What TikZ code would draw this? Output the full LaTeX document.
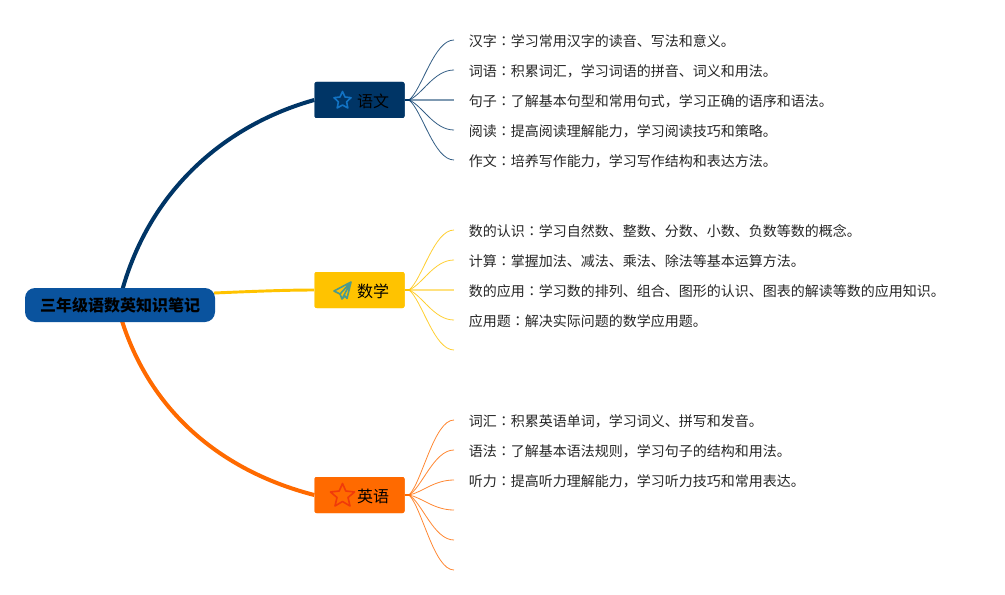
\documentclass[tikz,border=0pt]{standalone}
\usepackage{fontspec}
\setmainfont{Noto Sans CJK SC}
\newfontfamily\tcfont{Noto Sans CJK TC}
\newcommand{\cln}{{\tcfont ：}}
\tikzset{
  x=0.75pt,y=-0.75pt,
  rootbox/.style={fill=rootblue,rounded corners=7.5pt,minimum width=142.5pt,minimum height=25.5pt,inner sep=0pt,font=\fontsize{12pt}{14pt}\selectfont\bfseries,text=black},
  topicbox/.style={rounded corners=1.5pt,minimum width=67.5pt,minimum height=27pt,inner sep=0pt},
  topiclabel/.style={inner sep=0pt,font=\fontsize{12pt}{14pt}\selectfont,text=black},
  leaf/.style={anchor=west,inner sep=0pt,font=\fontsize{10.5pt}{12pt}\selectfont,text=black!85},
  mainline/.style={line width=3pt},
  thinmain/.style={line width=2.2pt},
  twig/.style={line width=0.6pt,opacity=0.8},
  midtwig/.style={line width=1.5pt,opacity=0.5},
  stub/.style={line width=2pt},
}
\definecolor{rootblue}{HTML}{0A539E}
\definecolor{navy}{HTML}{003566}
\definecolor{gold}{HTML}{FFC300}
\definecolor{orangeb}{HTML}{FF6A00}
\definecolor{staricon}{HTML}{1273C4}
\definecolor{planeicon}{HTML}{4C9A8E}
\definecolor{redicon}{HTML}{F03A0A}
\begin{document}
\begin{tikzpicture}
\useasboundingbox (0,0) rectangle (1005,595);
\coordinate (rootT) at (122,291);
\coordinate (rootB) at (122,321);
\coordinate (rootE) at (214,293);
\node[topicbox,fill=navy] (yw) at (359.5,100) {};
\node[topicbox,fill=gold] (sx) at (359.5,290) {};
\node[topicbox,fill=orangeb] (yy) at (359.5,495) {};
\draw[mainline,navy] (rootT) .. controls (150,190) and (225,125) .. (yw.west);
\draw[thinmain,gold] (rootE) .. controls (250,291.5) and (285,290) .. (sx.west);
\draw[mainline,orangeb] (rootB) .. controls (152,415) and (225,472) .. (yy.west);
% boxes over lines
\node[rootbox] (root) at (120,305) {三年级语数英知识笔记};
\node[topicbox,fill=navy] at (359.5,100) {};
\node[topicbox,fill=gold] at (359.5,290) {};
\node[topicbox,fill=orangeb] at (359.5,495) {};
% topic labels
\node[topiclabel] (ywt) at (373,101) {语文};
\node[topiclabel] (sxt) at (373,291) {数学};
\node[topiclabel] (yyt) at (373,496) {英语};
% icons
\draw[staricon,line width=1.2pt,line join=round] (342.5,91.5) -- (345,97) -- (351,97.7) -- (346.6,101.8) -- (347.8,108) -- (342.5,105) -- (337.2,108) -- (338.4,101.8) -- (334,97.7) -- (340,97) -- cycle;
\draw[planeicon,line width=1.2pt,line join=round] (351,282) -- (334,291) -- (340,294) -- (342,299) -- (345,296) -- (347,298.5) -- cycle (340,294) -- (351,282) -- (342,299);
\draw[redicon,line width=1.2pt,line join=round] (342.5,483.5) -- (345.8,491) -- (354.5,492) -- (348,497.5) -- (350,506) -- (342.5,501.5) -- (335,506) -- (337,497.5) -- (330.5,492) -- (339.2,491) -- cycle;
% hubs
\coordinate (ywh) at (409,100);
\coordinate (sxh) at (409,290);
\coordinate (yyh) at (409,495);
\draw[stub,navy] (yw.east) -- (ywh);
\draw[stub,gold] (sx.east) -- (sxh);
\draw[stub,orangeb] (yy.east) -- (yyh);
\foreach \n/\y in {a/40,b/70,c/100,d/130,e/160}{\coordinate (yw\n) at (454,\y);}
\foreach \n/\y in {a/230,b/260,c/290,d/320,e/350}{\coordinate (sx\n) at (454,\y);}
\foreach \n/\y in {a/420,b/450,c/480,d/510,e/540,f/570}{\coordinate (yy\n) at (454,\y);}
\foreach \n/\y in {a/40,b/70,d/130,e/160}{
  \pgfmathsetmacro{\cy}{100+0.17*(\y-100)}
  \draw[twig,navy] (ywh) .. controls (422,\cy) and (434,\y) .. (yw\n);}
\draw[midtwig,navy] (ywh) -- (ywc);
\foreach \n/\y in {a/230,b/260,d/320,e/350}{
  \pgfmathsetmacro{\cy}{290+0.17*(\y-290)}
  \draw[twig,gold] (sxh) .. controls (422,\cy) and (434,\y) .. (sx\n);}
\draw[midtwig,gold] (sxh) -- (sxc);
\foreach \n/\y in {a/420,b/450,c/480,d/510,e/540,f/570}{
  \pgfmathsetmacro{\cy}{495+0.17*(\y-495)}
  \draw[twig,orangeb] (yyh) .. controls (422,\cy) and (434,\y) .. (yy\n);}
\node[leaf] (t1) at (468.5,41.5) {汉字\cln 学习常用汉字的读音、写法和意义。};
\node[leaf] (t2) at (468.5,71.5) {词语\cln 积累词汇，学习词语的拼音、词义和用法。};
\node[leaf] (t3) at (468.5,101.5) {句子\cln 了解基本句型和常用句式，学习正确的语序和语法。};
\node[leaf] (t4) at (468.5,131.5) {阅读\cln 提高阅读理解能力，学习阅读技巧和策略。};
\node[leaf] (t5) at (468.5,161.5) {作文\cln 培养写作能力，学习写作结构和表达方法。};
\node[leaf] (t6) at (468.5,231.5) {数的认识\cln 学习自然数、整数、分数、小数、负数等数的概念。};
\node[leaf] (t7) at (468.5,261.5) {计算\cln 掌握加法、减法、乘法、除法等基本运算方法。};
\node[leaf] (t8) at (468.5,291.5) {数的应用\cln 学习数的排列、组合、图形的认识、图表的解读等数的应用知识。};
\node[leaf] (t9) at (468.5,321.5) {应用题\cln 解决实际问题的数学应用题。};
\node[leaf] (t10) at (468.5,421.5) {词汇\cln 积累英语单词，学习词义、拼写和发音。};
\node[leaf] (t11) at (468.5,451.5) {语法\cln 了解基本语法规则，学习句子的结构和用法。};
\node[leaf] (t12) at (468.5,481.5) {听力\cln 提高听力理解能力，学习听力技巧和常用表达。};
\end{tikzpicture}
\end{document}
